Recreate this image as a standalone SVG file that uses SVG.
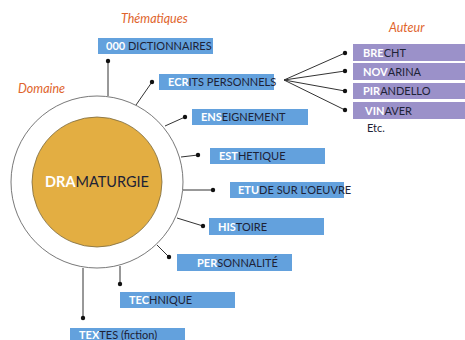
<svg xmlns="http://www.w3.org/2000/svg" width="465" height="340" viewBox="0 0 465 340">
<style>
.t{font-family:Lato,"Open Sans","Liberation Sans",sans-serif;font-size:11px;fill:#1d2236}
.b{font-weight:bold;fill:#ffffff}
.blue{fill:#63a1dd}
.purple{fill:#9b91c9}
.h{font-family:Lato,"Open Sans","Liberation Sans",sans-serif;font-size:12.5px;font-style:italic;fill:#e0642c}
.ln{stroke:#333;stroke-width:1;fill:none}
.dot{fill:#111}
</style>
<rect width="465" height="340" fill="#ffffff"/>
<text class="h" x="121" y="23">Thématiques</text>
<text class="h" x="18" y="93">Domaine</text>
<text class="h" x="389" y="32">Auteur</text>
<g id="domaine">
<circle cx="97" cy="182" r="86" fill="#ffffff" stroke="#555" stroke-width="0.8"/>
<circle cx="97" cy="182" r="65" fill="#e3ae42" stroke="#7a6a40" stroke-width="0.8"/>
<text class="t" x="97" y="187" text-anchor="middle" style="font-size:14.5px"><tspan class="b">DRA</tspan>MATURGIE</text>
</g>
<g id="connectors">
<line class="ln" x1="108" y1="96" x2="108" y2="61"/>
<line class="ln" x1="136" y1="105" x2="152" y2="82"/>
<line class="ln" x1="165" y1="126" x2="185" y2="117"/>
<line class="ln" x1="181" y1="157" x2="198" y2="155"/>
<line class="ln" x1="183" y1="190" x2="213" y2="190"/>
<line class="ln" x1="177" y1="218" x2="203" y2="226"/>
<line class="ln" x1="157" y1="245" x2="169" y2="257"/>
<line class="ln" x1="120" y1="266" x2="120" y2="284"/>
<line class="ln" x1="83" y1="268" x2="83" y2="318"/>
<line class="ln" x1="284" y1="80" x2="345" y2="53"/>
<line class="ln" x1="284" y1="80" x2="345" y2="71"/>
<line class="ln" x1="284" y1="80" x2="345" y2="91"/>
<line class="ln" x1="284" y1="80" x2="345" y2="110"/>
<circle class="dot" cx="108" cy="61" r="2.2"/>
<circle class="dot" cx="152" cy="82" r="2.2"/>
<circle class="dot" cx="185" cy="117" r="2.2"/>
<circle class="dot" cx="198" cy="155" r="2.2"/>
<circle class="dot" cx="213" cy="190" r="2.2"/>
<circle class="dot" cx="203" cy="226" r="2.2"/>
<circle class="dot" cx="169" cy="257" r="2.2"/>
<circle class="dot" cx="120" cy="284" r="2.2"/>
<circle class="dot" cx="83" cy="318" r="2.2"/>
<circle class="dot" cx="345" cy="53" r="2.2"/>
<circle class="dot" cx="345" cy="71" r="2.2"/>
<circle class="dot" cx="345" cy="91" r="2.2"/>
<circle class="dot" cx="345" cy="110" r="2.2"/>
</g>
<g id="dictionnaires"><rect class="blue" x="98" y="38" width="115" height="16"/><text class="t" x="106" y="50"><tspan class="b">000</tspan> DICTIONNAIRES</text></g>
<g id="ecrits"><rect class="blue" x="159" y="74" width="115" height="16"/><text class="t" x="168" y="86"><tspan class="b">ECR</tspan>ITS PERSONNELS</text></g>
<g id="enseignement"><rect class="blue" x="192" y="109" width="116" height="16"/><text class="t" x="201" y="121"><tspan class="b">ENS</tspan>EIGNEMENT</text></g>
<g id="esthetique"><rect class="blue" x="210" y="148" width="115" height="16"/><text class="t" x="219" y="160"><tspan class="b">EST</tspan>HETIQUE</text></g>
<g id="etude"><rect class="blue" x="230" y="182" width="114" height="16"/><text class="t" x="238" y="194"><tspan class="b">ETU</tspan>DE SUR L'OEUVRE</text></g>
<g id="histoire"><rect class="blue" x="209" y="218" width="115" height="17"/><text class="t" x="218" y="230.5"><tspan class="b">HIS</tspan>TOIRE</text></g>
<g id="personnalite"><rect class="blue" x="177" y="254" width="115" height="17"/><text class="t" x="197" y="266.5"><tspan class="b">PER</tspan>SONNALITÉ</text></g>
<g id="technique"><rect class="blue" x="120" y="292" width="115" height="16"/><text class="t" x="129" y="304"><tspan class="b">TEC</tspan>HNIQUE</text></g>
<g id="textes"><rect class="blue" x="70" y="328" width="115" height="16"/><text class="t" x="79" y="338.5"><tspan class="b">TEX</tspan>TES (fiction)</text></g>
<g id="brecht"><rect class="purple" x="353" y="44" width="112" height="17"/><text class="t" x="363" y="56.5"><tspan class="b">BRE</tspan>CHT</text></g>
<g id="novarina"><rect class="purple" x="353" y="63" width="112" height="17"/><text class="t" x="363" y="75.5"><tspan class="b">NOV</tspan>ARINA</text></g>
<g id="pirandello"><rect class="purple" x="353" y="83" width="112" height="16"/><text class="t" x="363" y="95"><tspan class="b">PIR</tspan>ANDELLO</text></g>
<g id="vinaver"><rect class="purple" x="353" y="102" width="112" height="17"/><text class="t" x="365" y="114.5"><tspan class="b">VIN</tspan>AVER</text></g>
<text class="t" x="367" y="132">Etc.</text>
</svg>
